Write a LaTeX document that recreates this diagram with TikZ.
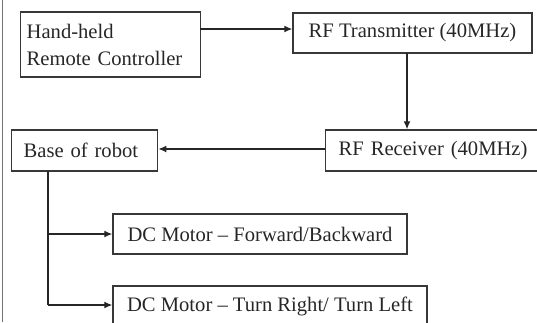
\documentclass[tikz,border=0pt]{standalone}
\usepackage{fontspec}
\setmainfont{Liberation Serif}
\usetikzlibrary{arrows.meta}
\begin{document}
\begin{tikzpicture}[x=1pt,y=-1pt,
  blk/.style={draw=black!78,line width=1.4pt,inner sep=0pt,font=\fontsize{20.6}{27}\selectfont,text=black!85},
  conn/.style={draw=black!85,line width=1.3pt},
  arr/.style={conn,-{Latex[length=8pt,width=7pt]}}]
\useasboundingbox (0,0) rectangle (537,322);
\clip (0,0) rectangle (537,322);
\draw[black!55,line width=1pt] (2,0) -- (2,322);
\node[blk,anchor=west,minimum height=65pt,text width=168pt,inner xsep=6pt,align=left] (hh) at (20,44.5) {Hand-held\\Remote Controller};
\node[blk,minimum width=239pt,minimum height=40pt] (tx) at (412.5,33) {RF Transmitter (40MHz)};
\node[blk,anchor=west,minimum height=41pt,text width=204pt,inner xsep=13pt,align=left] (rx) at (325,150.5) {RF Receiver (40MHz)};
\node[blk,anchor=west,minimum height=41pt,text width=122pt,inner xsep=12pt,align=left] (base) at (11,150.5) {Base of robot};
\node[blk,minimum width=294pt,minimum height=40pt] (m1) at (260,234) {DC Motor – Forward/Backward};
\node[blk,minimum width=314pt,minimum height=40pt] (m2) at (270,306) {DC Motor – Turn Right/ Turn Left};
\coordinate (hx) at (200,29);
\draw[arr] (hx) -- (hx -| tx.west);
\coordinate (tv) at (407,53);
\draw[arr] (tv) -- (tv |- rx.north);
\coordinate (rb) at (325,149);
\draw[arr] (rb) -- (rb -| base.east);
\coordinate (bv) at (48,171);
\coordinate (b1) at (48,234);
\coordinate (b2) at (48,305);
\draw[conn] (bv) -- (b2);
\draw[arr] (b1) -- (b1 -| m1.west);
\draw[arr] (b2) -- (b2 -| m2.west);
\end{tikzpicture}
\end{document}
